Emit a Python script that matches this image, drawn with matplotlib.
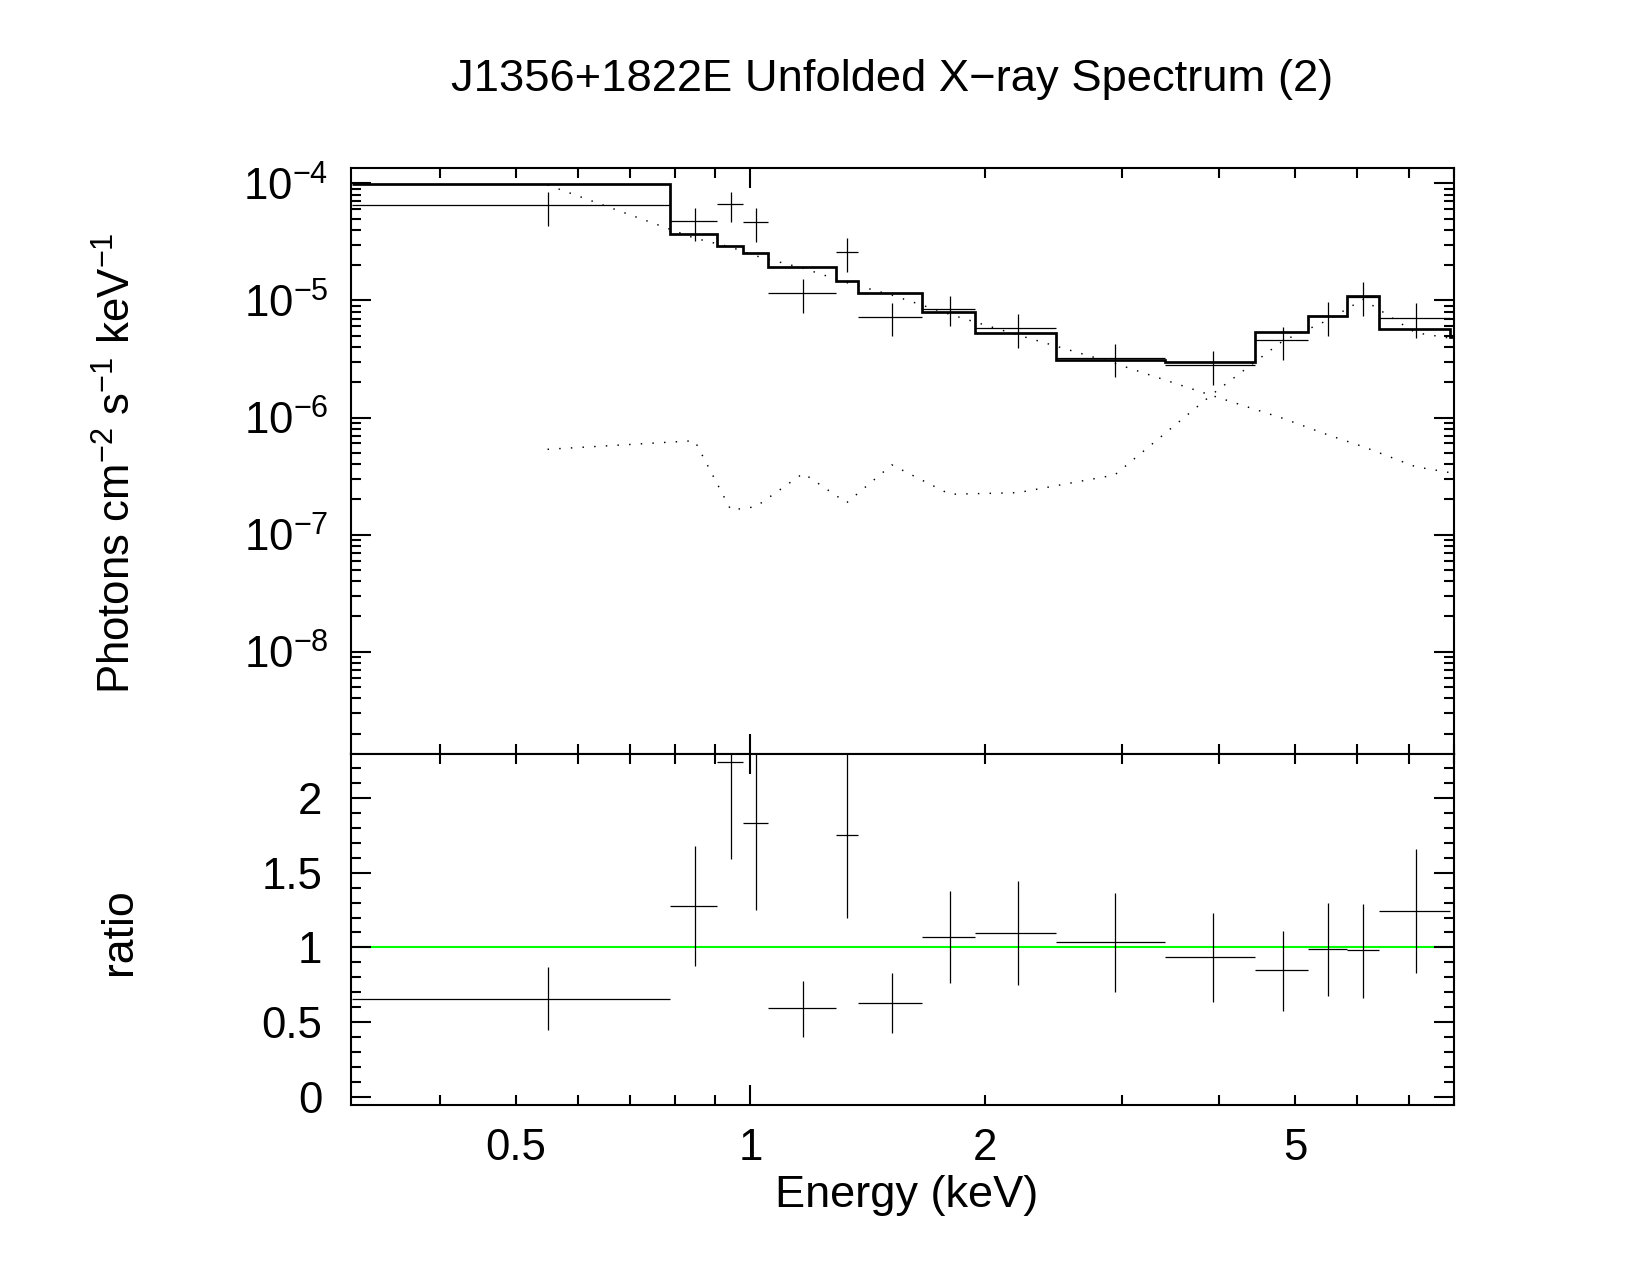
import numpy as np
import matplotlib
matplotlib.use('Agg')
import matplotlib.pyplot as plt
from matplotlib.ticker import LogLocator, FixedLocator, MultipleLocator, NullFormatter, FuncFormatter, LogFormatterSciNotation

plt.rcParams['font.family'] = ['Liberation Sans', 'DejaVu Sans']
plt.rcParams['mathtext.fontset'] = 'custom'
plt.rcParams['mathtext.rm'] = 'Liberation Sans'
plt.rcParams['mathtext.it'] = 'Liberation Sans:italic'
plt.rcParams['mathtext.bf'] = 'Liberation Sans:bold'

######## energy bins (keV)
binLo  = [0.308, 0.789, 0.907, 0.979, 1.053, 1.286, 1.373, 1.662, 1.940, 2.466, 3.403, 4.443, 5.196, 5.833, 6.412]
binHi  = [0.789, 0.907, 0.979, 1.053, 1.286, 1.373, 1.662, 1.940, 2.466, 3.403, 4.443, 5.196, 5.833, 6.412, 7.910]
binMid = [0.549, 0.848, 0.944, 1.016, 1.169, 1.329, 1.519, 1.803, 2.204, 2.935, 3.925, 4.822, 5.513, 6.115, 7.140]

######## unfolded data (photons cm-2 s-1 keV-1)
flux   = [6.48e-5, 4.74e-5, 6.62e-5, 4.65e-5, 1.15e-5, 2.58e-5, 7.27e-6, 8.45e-6, 5.85e-6, 3.24e-6, 2.81e-6, 4.56e-6, 7.30e-6, 1.07e-5, 7.13e-6]
fluxLo = [4.35e-5, 3.22e-5, 4.68e-5, 3.18e-5, 7.86e-6, 1.76e-5, 4.97e-6, 6.05e-6, 3.95e-6, 2.23e-6, 1.91e-6, 3.10e-6, 5.00e-6, 7.30e-6, 4.75e-6]
fluxHi = [8.49e-5, 6.19e-5, 8.49e-5, 6.11e-5, 1.51e-5, 3.39e-5, 9.44e-6, 1.09e-5, 7.66e-6, 4.25e-6, 3.70e-6, 5.89e-6, 9.60e-6, 1.43e-5, 9.44e-6]

######## total model histogram (one extra bin past the axis edge)
modelEdges = [0.308, 0.789, 0.907, 0.979, 1.053, 1.286, 1.373, 1.662, 1.940, 2.466, 3.403, 4.443, 5.196, 5.833, 6.412, 7.910, 8.600]
modelVals  = [9.87e-5, 3.71e-5, 2.94e-5, 2.54e-5, 1.94e-5, 1.475e-5, 1.157e-5, 7.91e-6, 5.31e-6, 3.10e-6, 2.98e-6, 5.38e-6, 7.41e-6, 1.09e-5, 5.70e-6, 4.85e-6]

######## model components at bin centres
compE = [0.549, 0.848, 0.944, 1.016, 1.169, 1.329, 1.519, 1.803, 2.204, 2.935, 3.925, 4.822, 5.513, 6.115, 7.140, 8.255]
compSoft = [9.68e-5, 3.40e-5, 2.85e-5, 2.40e-5, 1.88e-5, 1.42e-5, 1.11e-5, 7.60e-6, 5.07e-6, 2.90e-6, 1.53e-6, 9.85e-7, 7.10e-7, 5.64e-7, 3.80e-7, 3.22e-7]
compHard = [5.35e-7, 6.34e-7, 1.62e-7, 1.73e-7, 3.34e-7, 1.87e-7, 3.94e-7, 2.21e-7, 2.28e-7, 3.23e-7, 1.60e-6, 4.50e-6, 6.80e-6, 1.02e-5, 5.30e-6, 4.55e-6]

######## data/model ratio
ratio   = [0.658, 1.277, 2.241, 1.833, 0.592, 1.752, 0.629, 1.069, 1.096, 1.036, 0.935, 0.846, 0.989, 0.980, 1.243]
ratioLo = [0.449, 0.873, 1.594, 1.250, 0.404, 1.194, 0.431, 0.761, 0.750, 0.705, 0.638, 0.578, 0.672, 0.665, 0.828]
ratioHi = [0.866, 1.676, 2.890, 2.410, 0.777, 2.310, 0.828, 1.379, 1.442, 1.362, 1.230, 1.109, 1.297, 1.290, 1.661]

fs = 21
dataLw = 0.6

mid = np.array(binMid)
xerr = [mid - np.array(binLo), np.array(binHi) - mid]

fig = plt.figure(figsize=(11, 8.5), dpi=150)
axTop = fig.add_axes([0.2130, 0.4090, 0.6682, 0.4589])
axBot = fig.add_axes([0.2130, 0.1333, 0.6682, 0.2757], sharex=axTop)

######## upper panel
f = np.array(flux)
axTop.errorbar(mid, f, xerr=xerr, yerr=[f - np.array(fluxLo), np.array(fluxHi) - f],
               fmt='none', ecolor='k', elinewidth=dataLw, capsize=0)
axTop.stairs(modelVals, modelEdges, baseline=None, color='k', linewidth=1.3)
axTop.plot(compE, compSoft, color='k', linewidth=0.7, linestyle=(0, (1, 7)))
axTop.plot(compE, compHard, color='k', linewidth=0.7, linestyle=(0, (1, 7)))
axTop.set_xscale('log')
axTop.set_yscale('log')
axTop.set_xlim(0.3075, 8.0)
axTop.set_ylim(1.35e-9, 1.34e-4)
axTop.yaxis.set_major_locator(LogLocator(base=10, numticks=20))
axTop.yaxis.set_minor_locator(LogLocator(base=10, subs=np.arange(2, 10), numticks=20))
axTop.yaxis.set_major_formatter(LogFormatterSciNotation())
axTop.yaxis.set_minor_formatter(NullFormatter())

######## lower panel
r = np.array(ratio)
axBot.errorbar(mid, r, xerr=xerr, yerr=[r - np.array(ratioLo), np.array(ratioHi) - r],
               fmt='none', ecolor='k', elinewidth=dataLw, capsize=0)
axBot.axhline(1.0, color='#00ff00', linewidth=1.0, zorder=0.5)
axBot.set_ylim(-0.054, 2.297)
axBot.yaxis.set_major_locator(FixedLocator([0, 0.5, 1, 1.5, 2]))
axBot.yaxis.set_minor_locator(MultipleLocator(0.1))
axBot.yaxis.set_major_formatter(FuncFormatter(lambda v, p: '%g' % round(v, 2)))

# x ticks: long tick at 1 keV, short ones elsewhere, labels at 0.5 1 2 5
axBot.xaxis.set_major_locator(FixedLocator([1.0]))
axBot.xaxis.set_minor_locator(LogLocator(base=10, subs=np.arange(2, 10), numticks=20))
lab = lambda v, p: ('%g' % round(v, 3)) if round(v, 3) in (0.5, 1.0, 2.0, 5.0) else ''
axBot.xaxis.set_major_formatter(FuncFormatter(lab))
axBot.xaxis.set_minor_formatter(FuncFormatter(lab))

for ax in (axTop, axBot):
	for s in ax.spines.values():
		s.set_linewidth(1.0)
	ax.tick_params(which='both', direction='in', top=True, right=True, width=1.0, labelsize=fs)
	ax.tick_params(which='major', length=9.5)
	ax.tick_params(which='minor', length=4.8)

axTop.tick_params(axis='x', which='both', labelbottom=False)
axTop.tick_params(axis='y', pad=11)
axBot.tick_params(axis='y', pad=14)
axBot.tick_params(axis='x', which='both', pad=11)

fig.text(892/1650, 1 - 80/1275, 'J1356+1822E Unfolded X\u2212ray Spectrum (2)', ha='center', va='center', fontsize=21.8)
fig.text(907/1650, 1 - 1195/1275, 'Energy (keV)', ha='center', va='center', fontsize=21.7)
fig.text(118/1650, 1 - 463/1275, r'Photons cm$^{-2}$ s$^{-1}$ keV$^{-1}$', rotation=90, ha='center', va='center', fontsize=fs)
fig.text(120/1650, 1 - 932/1275, 'ratio', rotation=90, ha='center', va='center', fontsize=21.4)

fig.savefig('out.png', dpi=150)
